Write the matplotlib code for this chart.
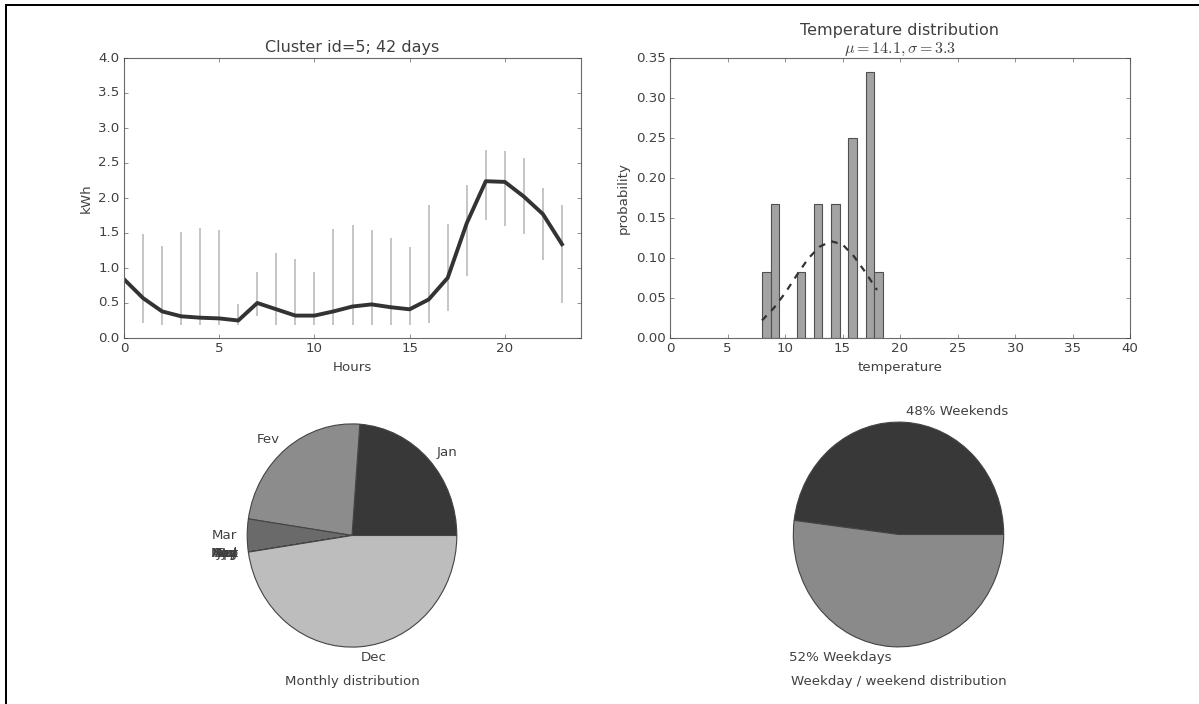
import numpy as np
import matplotlib
matplotlib.use("Agg")
import matplotlib.pyplot as plt
from matplotlib.lines import Line2D

plt.style.use('classic')

# --- data ---
hours = np.arange(24)
kwh_mean = [0.84, 0.57, 0.38, 0.31, 0.29, 0.28, 0.25, 0.50, 0.41, 0.32, 0.32, 0.38,
            0.45, 0.48, 0.44, 0.41, 0.55, 0.86, 1.64, 2.24, 2.23, 2.02, 1.77, 1.34]
kwh_low = [0.22, 0.22, 0.19, 0.19, 0.19, 0.19, 0.19, 0.31, 0.19, 0.19, 0.19, 0.19,
           0.19, 0.19, 0.19, 0.19, 0.21, 0.38, 0.88, 1.69, 1.60, 1.48, 1.12, 0.50]
kwh_high = [1.48, 1.48, 1.31, 1.51, 1.57, 1.54, 0.48, 0.95, 1.21, 1.13, 0.95, 1.56,
            1.62, 1.55, 1.43, 1.30, 1.90, 1.63, 2.18, 2.68, 2.67, 2.57, 2.15, 1.90]

temp_bins = [8.0, 8.75, 9.5, 10.25, 11.0, 11.75, 12.5, 13.25, 14.0, 14.75,
             15.5, 16.25, 17.0, 17.75]
temp_prob = [0.083, 0.167, 0, 0, 0.083, 0, 0.167, 0, 0.167, 0,
             0.25, 0, 0.333, 0.083]
fit_x = [8, 9, 10, 11, 12, 13, 14, 15, 16, 17, 18]
fit_y = [0.022, 0.037, 0.056, 0.078, 0.099, 0.114, 0.121, 0.117, 0.102, 0.082, 0.060]

months = ['Jan', 'Fev', 'Mar', 'Apr', 'May', 'Jun', 'Jul', 'Aug', 'Sep', 'Oct', 'Nov', 'Dec']
month_days = [10, 10, 2, 0, 0, 0, 0, 0, 0, 0, 0, 20]
month_colors = ['#383838', '#8c8c8c', '#6a6a6a', '#555555', '#555555', '#555555',
                '#555555', '#555555', '#555555', '#555555', '#555555', '#bdbdbd']

week_labels = ['48% Weekends', '52% Weekdays']
week_share = [48, 52]
week_colors = ['#383838', '#8a8a8a']

txt = '#404040'
plt.rcParams['text.color'] = txt
plt.rcParams['axes.labelcolor'] = txt
plt.rcParams['xtick.color'] = txt
plt.rcParams['ytick.color'] = txt
plt.rcParams['axes.edgecolor'] = '#6a6a6a'

W, H = 1199, 704
fig = plt.figure(figsize=(W / 80, H / 80), dpi=80, facecolor='white')

def box(x0, x1, y0, y1):
    return [x0 / W, 1 - y1 / H, (x1 - x0) / W, (y1 - y0) / H]

# hourly profile
ax1 = fig.add_axes(box(124, 581, 58, 338))
lo = np.array(kwh_mean) - np.array(kwh_low)
hi = np.array(kwh_high) - np.array(kwh_mean)
ax1.errorbar(hours, kwh_mean, yerr=[lo, hi], fmt='none', ecolor='#bbbbbb',
             elinewidth=1.5, capsize=0)
ax1.plot(hours, kwh_mean, color='#333333', lw=3.5)
ax1.set_xlim(0, 24)
ax1.set_ylim(0, 4)
ax1.set_yticks(np.arange(0, 4.01, 0.5))
ax1.set_xticks([0, 5, 10, 15, 20])
ax1.set_title('Cluster id=5; 42 days')
ax1.set_xlabel('Hours')
ax1.set_ylabel('kWh')

# temperature histogram
ax2 = fig.add_axes(box(670, 1130, 58, 338))
ax2.bar(temp_bins, temp_prob, width=0.75, align='edge', color='#a3a3a3', edgecolor='#505050', lw=1)
ax2.plot(fit_x, fit_y, '--', color='#333333', lw=2)
ax2.set_xlim(0, 40)
ax2.set_ylim(0, 0.35)
ax2.set_yticks(np.arange(0, 0.351, 0.05))
ax2.yaxis.set_major_formatter(matplotlib.ticker.FormatStrFormatter('%.2f'))
ax2.set_title('Temperature distribution\n$\\mu=14.1, \\sigma=3.3$')
ax2.set_xlabel('temperature')
ax2.set_ylabel('probability')

# monthly pie
ax3 = fig.add_axes(box(221, 483, 396, 675))
ax3.pie(month_days, labels=months, colors=month_colors, startangle=0,
        wedgeprops={'edgecolor': '#444444', 'linewidth': 1})
ax3.set_aspect('auto')
ax3.set_xlim(-1.25, 1.25)
ax3.set_ylim(-1.25, 1.25)
ax3.set_xlabel('Monthly distribution', labelpad=0)

# weekday / weekend pie
ax4 = fig.add_axes(box(767, 1030, 394, 675))
ax4.pie(week_share, labels=week_labels, colors=week_colors, startangle=0,
        wedgeprops={'edgecolor': '#444444', 'linewidth': 1})
ax4.set_aspect('auto')
ax4.set_xlim(-1.25, 1.25)
ax4.set_ylim(-1.25, 1.25)
ax4.set_xlabel('Weekday / weekend distribution', labelpad=0)

# frame lines of the original crop
fig.add_artist(Line2D([6 / W, 1], [1 - 5 / H, 1 - 5 / H], transform=fig.transFigure, color='black', lw=1.8))
fig.add_artist(Line2D([6 / W, 6 / W], [0, 1 - 5 / H], transform=fig.transFigure, color='black', lw=1.8))

fig.savefig('out.png', dpi=80, facecolor='white')
